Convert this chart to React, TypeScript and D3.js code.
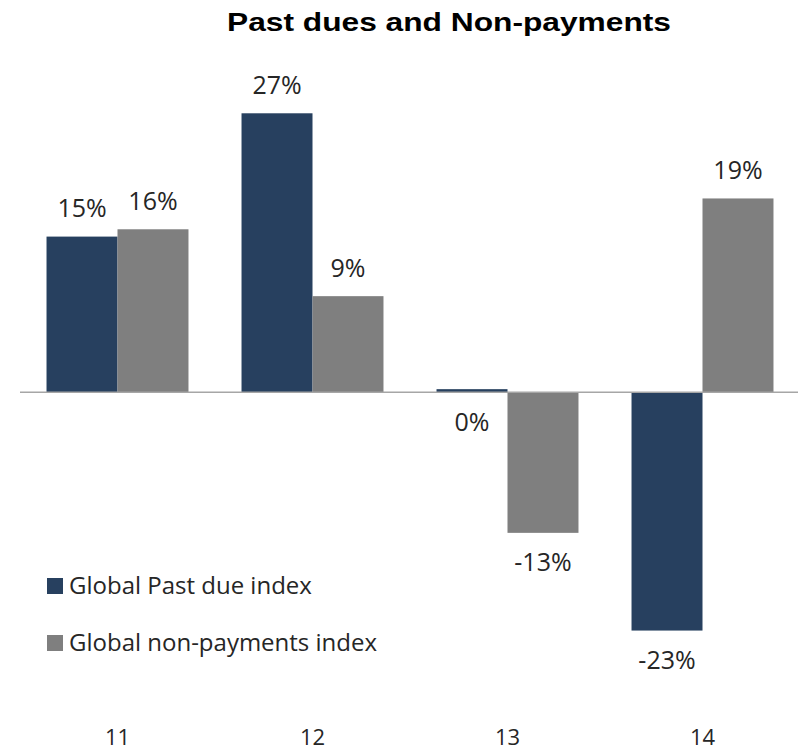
import React from "react";
import * as d3 from "d3";

const categories = ["11", "12", "13", "14"];
const seriesNames = ["Global Past due index", "Global non-payments index"];
const pastDue = [14.9, 26.7, 0.3, -22.8];
const nonPayments = [15.6, 9.2, -13.45, 18.55];
const seriesColors = ["#27405f", "#7f7f7f"];

const W = 799;
const H = 753;

export default function App() {
  const x = d3.scaleBand<string>().domain(categories).range([20, 800]).paddingInner(0.272).paddingOuter(0.136);
  const x1 = d3.scaleBand<number>().domain([0, 1]).range([0, x.bandwidth()]);
  const y = d3.scaleLinear().domain([-30, 30]).range([392.3 + 313.5, 392.3 - 313.5]);
  const series = [pastDue, nonPayments];
  const labelFont = "'Open Sans', 'Noto Sans', sans-serif";
  const fmt = (v: number) => `${Math.round(v) === 0 ? 0 : Math.round(v)}%`;

  return (
    <svg width={W} height={H} style={{ position: "absolute", left: 0, top: 0 }}>
      <rect width={W} height={H} fill="#ffffff" />
      <text x={449} y={31} textAnchor="middle" textLength={444} lengthAdjust="spacingAndGlyphs" fontFamily="'Liberation Sans', Arial, sans-serif" fontWeight="bold" fontSize={26.5} fill="#000">
        Past dues and Non-payments
      </text>
      {series.map((vals, si) =>
        categories.map((c, ci) => {
          const v = vals[ci];
          const bx = (x(c) as number) + (x1(si) as number);
          const y0 = y(0);
          const yv = y(v);
          return (
            <rect key={`b${si}-${ci}`} x={bx} width={x1.bandwidth()} y={Math.min(y0, yv)} height={Math.abs(yv - y0)} fill={seriesColors[si]} />
          );
        })
      )}
      <line x1={20} x2={798} y1={y(0)} y2={y(0)} stroke="#a6a6a6" strokeWidth={1.5} />
      {series.map((vals, si) =>
        categories.map((c, ci) => {
          const v = vals[ci];
          const cx = (x(c) as number) + (x1(si) as number) + x1.bandwidth() / 2;
          const below = v < 0 || Math.round(v) === 0;
          const ty = below ? Math.max(y(v), y(0)) + 20 + 18.5 : y(v) - 19.5;
          return (
            <text key={`l${si}-${ci}`} x={cx} y={ty} textAnchor="middle" fontFamily={labelFont} fontSize={25} fill="#262626">
              {fmt(v)}
            </text>
          );
        })
      )}
      {seriesNames.map((n, i) => (
        <g key={n} transform={`translate(47, ${578 + i * 57})`}>
          <rect x={0} y={0} width={16} height={16} fill={seriesColors[i]} />
          <text x={22} y={16} fontFamily={labelFont} fontSize={24} fill="#262626">
            {n}
          </text>
        </g>
      ))}
      {categories.map((c) => (
        <text key={c} x={(x(c) as number) + x.bandwidth() / 2} y={745} textAnchor="middle" fontFamily={labelFont} fontSize={22} fill="#262626">
          {c}
        </text>
      ))}
    </svg>
  );
}
